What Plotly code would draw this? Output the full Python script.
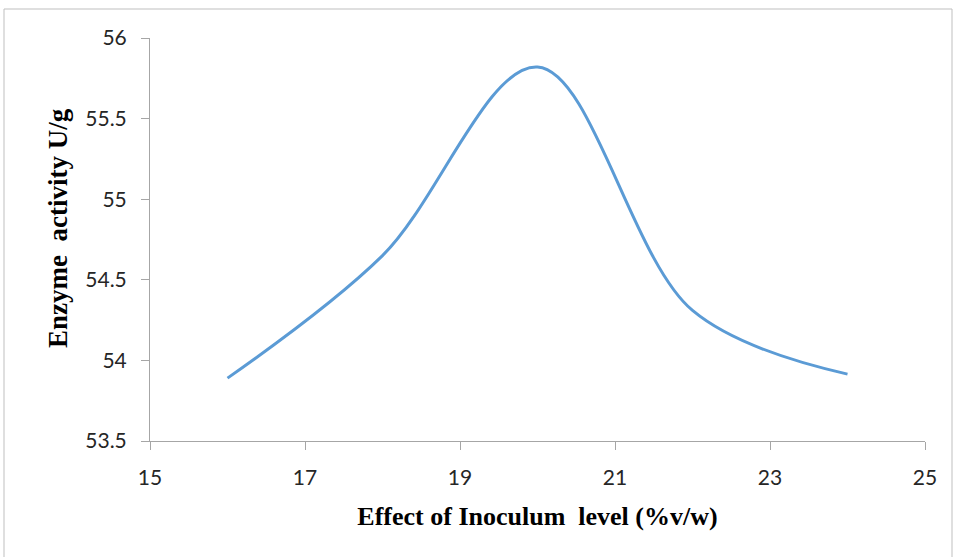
import plotly.graph_objects as go

inoculum = [16, 18, 20, 22, 24]
activity = [53.89, 54.65, 55.82, 54.31, 53.915]
x_ticks = [15, 17, 19, 21, 23, 25]
y_ticks = [53.5, 54, 54.5, 55, 55.5, 56]
y_tick_labels = ["53.5", "54", "54.5", "55", "55.5", "56"]

fig = go.Figure()
fig.add_trace(go.Scatter(
    x=inoculum, y=activity, mode="lines",
    line=dict(color="#5B9BD5", width=3, shape="spline", smoothing=1.0),
    showlegend=False,
))

axis_common = dict(
    showgrid=False, zeroline=False, showline=True, linecolor="#A6A6A6", linewidth=1,
    ticks="outside", ticklen=8, tickcolor="#A6A6A6", tickwidth=1,
    tickfont=dict(family="Lato, Open Sans, sans-serif", size=21, color="#262626"),
)

fig.update_xaxes(range=[15, 25], tickvals=x_ticks, ticktext=[str(v) for v in x_ticks],
                 ticklabelstandoff=10,
                 title=dict(text="<b>Effect of Inoculum  level (%v/w)</b>",
                            font=dict(family="Liberation Serif, serif", size=26, color="black"),
                            standoff=18),
                 **axis_common)
fig.update_yaxes(range=[53.5, 56], tickvals=y_ticks, ticktext=y_tick_labels,
                 ticklabelstandoff=10,
                 **axis_common)

fig.update_layout(
    width=955, height=557,
    margin=dict(l=150, r=30, t=38, b=116),
    paper_bgcolor="white", plot_bgcolor="white",
    shapes=[dict(type="rect", xref="paper", yref="paper",
                 x0=-146/775, x1=1 + 27/775, y0=-120/403, y1=1 + 29/403,
                 line=dict(color="#BFBFBF", width=1))],
    annotations=[dict(text="<b>Enzyme  activity U/g</b>", xref="paper", yref="paper",
                      x=-92/775, y=(441 - 228) / 403, xanchor="center", yanchor="middle",
                      textangle=-90, showarrow=False,
                      font=dict(family="Liberation Serif, serif", size=27, color="black"))],
)

fig.write_html("out.html")
